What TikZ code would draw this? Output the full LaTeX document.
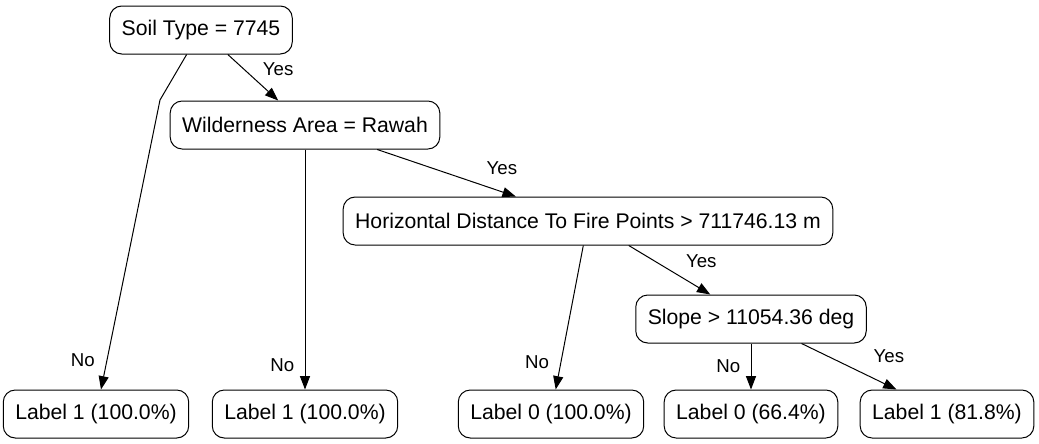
\documentclass[tikz,border=0pt]{standalone}
\usepackage{fontspec}
\setmainfont{Liberation Sans}
\usetikzlibrary{arrows.meta}

\begin{document}
\begin{tikzpicture}[
  x=0.75pt,y=-0.75pt,
  test/.style={draw,rounded corners=9pt,line width=0.75pt,minimum height=36pt,
               inner xsep=9pt,font=\fontsize{15.9}{18}\selectfont},
  leaf/.style={test},
  edge/.style={-{Triangle[length=10pt,width=7.5pt]},line width=0.75pt},
  lbl/.style={font=\fontsize{14}{16}\selectfont,inner sep=0pt}
]
\useasboundingbox (0,0) rectangle (1039,443);
% splits
\node[test] (soil)  at (201,30)  {Soil Type = 7745};
\node[test] (wild)  at (305,125) {Wilderness Area = Rawah};
\node[test] (fire)  at (588,221) {Horizontal Distance To Fire Points > 711746.13 m};
\node[test] (slope) at (751,319) {Slope > 11054.36 deg};
% leaves
\node[leaf] (leafa) at (96,414)  {Label 1 (100.0\%)};
\node[leaf] (leafb) at (305,414) {Label 1 (100.0\%)};
\node[leaf] (leafc) at (551,414) {Label 0 (100.0\%)};
\node[leaf] (leafd) at (751,414) {Label 0 (66.4\%)};
\node[leaf] (leafe) at (947,414) {Label 1 (81.8\%)};
\coordinate (bend) at (160,100);

\draw[line width=0.75pt] (soil) -- (bend);
\draw[edge] (bend) -- node[lbl,pos=0.9,xshift=-18pt]{No} (leafa);
\draw[edge] (soil) -- node[lbl,pos=0.31,xshift=26pt]{Yes} (wild);
\draw[edge] (wild) -- node[lbl,pos=0.9,xshift=-17pt]{No} (leafb);
\draw[edge] (wild) -- node[lbl,pos=0.9,yshift=18pt]{Yes} (fire);
\draw[edge] (fire) -- node[lbl,pos=0.807,xshift=-18pt]{No} (leafc);
\draw[edge] (fire) -- node[lbl,pos=0.89,yshift=21pt]{Yes} (slope);
\draw[edge] (slope) -- node[lbl,pos=0.49,xshift=-17pt]{No} (leafd);
\draw[edge] (slope) -- node[lbl,pos=0.92,yshift=22pt]{Yes} (leafe);
\end{tikzpicture}
\end{document}
